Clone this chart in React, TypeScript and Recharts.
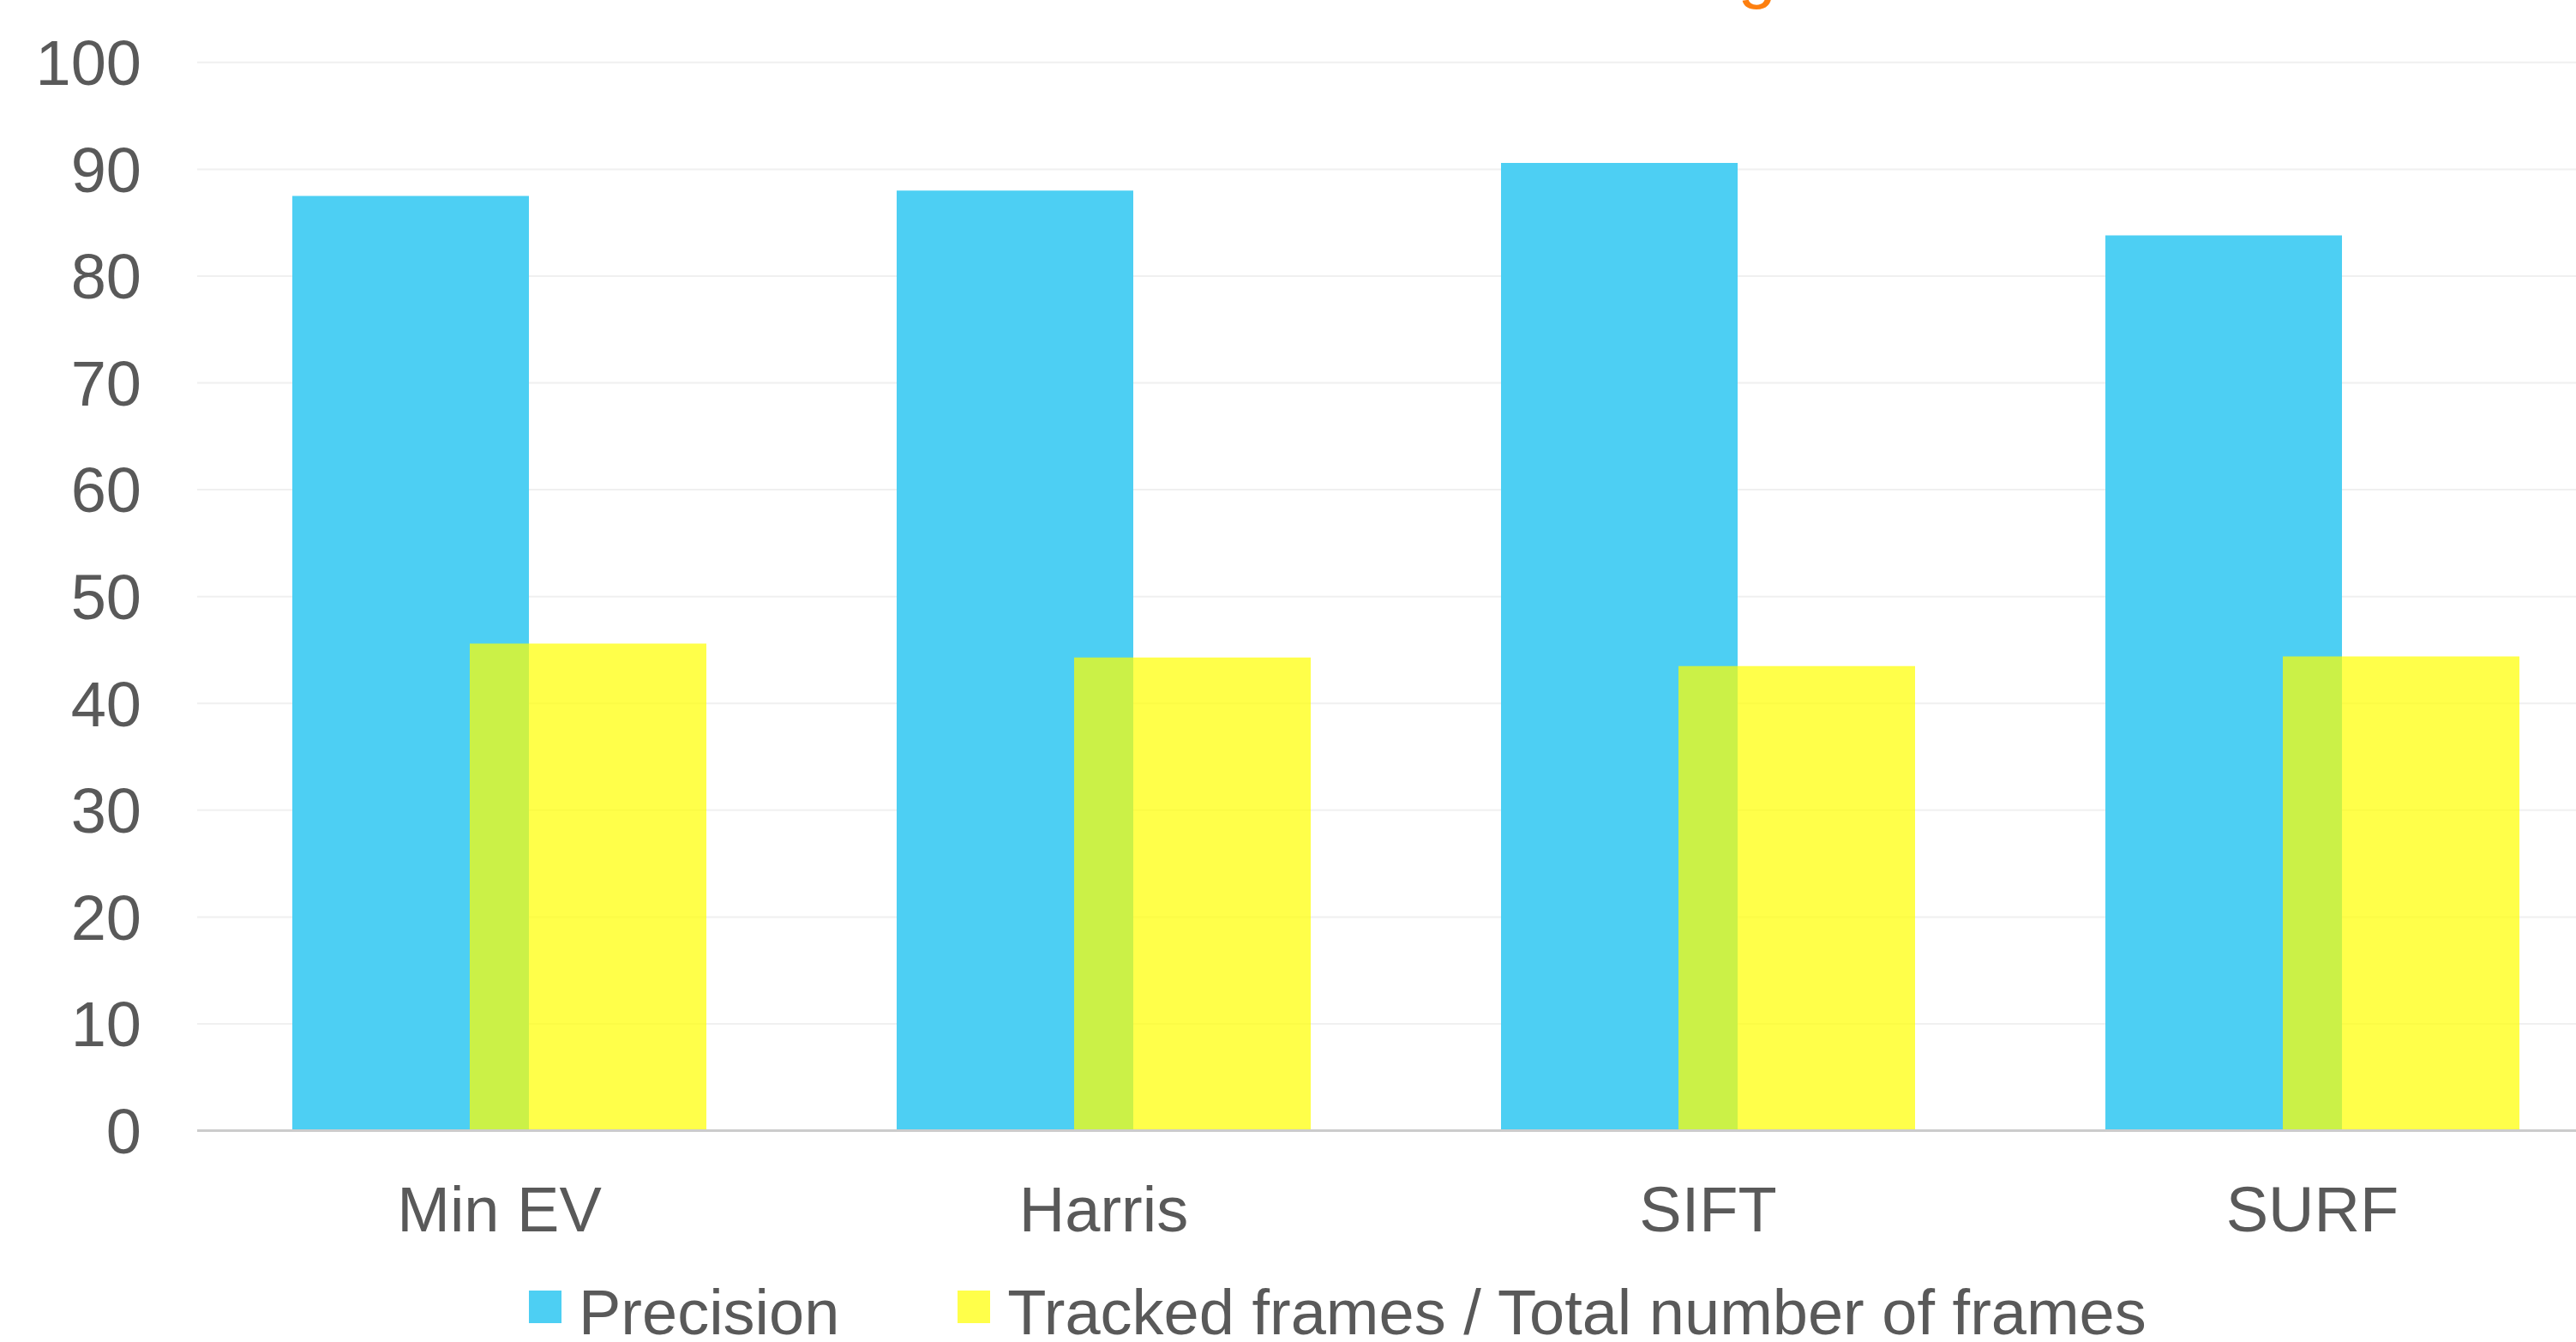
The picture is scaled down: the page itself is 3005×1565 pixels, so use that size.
import React from 'react';
import { BarChart, Bar, XAxis, YAxis, CartesianGrid, Legend } from 'recharts';

const categories = ['Min EV', 'Harris', 'SIFT', 'SURF'];
const precision = [87.5, 88.0, 90.6, 83.8];
const trackedRatio = [45.6, 44.3, 43.5, 44.4];
const yTicks = [0, 10, 20, 30, 40, 50, 60, 70, 80, 90, 100];
const seriesNames = ['Precision', 'Tracked frames / Total number of frames'];

const data = categories.map((name, i) => ({
  name,
  precision: precision[i],
  tracked: trackedRatio[i],
}));

const FONT = '"Liberation Sans", Arial, Helvetica, sans-serif';
const TEXT = '#595959';
const BLUE = '#4dcff3';
const YELLOW = '#ffff00';
const YELLOW_OPACITY = 0.71;

const opacityByKey: Record<string, number> = { precision: 1, tracked: YELLOW_OPACITY };

const renderLegend = (props: any) => {
  const { payload = [] } = props;
  return (
    <div style={{ display: 'flex', fontFamily: FONT, fontSize: 74, lineHeight: '74px', color: TEXT }}>
      {payload.map((e: any, i: number) => (
        <div key={i} style={{ display: 'flex', alignItems: 'flex-start', marginRight: 138 }}>
          <div
            style={{
              width: 38,
              height: 38,
              background: e.color,
              opacity: opacityByKey[e.dataKey] ?? 1,
              marginTop: 11,
              marginRight: 20,
            }}
          />
          <span style={{ whiteSpace: 'nowrap' }}>{e.value}</span>
        </div>
      ))}
    </div>
  );
};

export default function App() {
  return (
    <div
      style={{
        position: 'absolute',
        left: 0,
        top: 0,
        width: 3005,
        height: 1565,
        overflow: 'hidden',
        background: '#ffffff',
      }}
    >
      <svg
        width={3005}
        height={30}
        style={{ position: 'absolute', left: 0, top: 0, zIndex: 2 }}
      >
        <text x={2072} y={-6} textAnchor="end" fill="#fd7f0f" fontFamily={FONT} fontSize={80}>
          Tracking
        </text>
      </svg>
      <BarChart
        width={3060}
        height={1565}
        data={data}
        margin={{ top: 72.8, right: 10, bottom: 0, left: 0 }}
        barSize={276}
        barGap={-69}
      >
        <CartesianGrid vertical={false} stroke="#f0f0f0" strokeWidth={2} />
        <XAxis
          dataKey="name"
          height={246.4}
          tickLine={false}
          tickSize={0}
          tickMargin={65}
          axisLine={{ stroke: '#cccccc', strokeWidth: 3 }}
          tick={{ fill: TEXT, fontSize: 74, fontFamily: FONT }}
        />
        <YAxis
          width={230}
          domain={[0, 100]}
          ticks={yTicks}
          interval={0}
          axisLine={false}
          tickLine={false}
          tickSize={0}
          tickMargin={65}
          tick={{ fill: TEXT, fontSize: 74, fontFamily: FONT }}
        />
        <Legend
          layout="horizontal"
          verticalAlign="middle"
          align="center"
          content={renderLegend}
          wrapperStyle={{ position: 'absolute', left: 617, top: 1494.3, width: 'auto', height: 'auto' }}
        />
        <Bar dataKey="precision" name={seriesNames[0]} fill={BLUE} isAnimationActive={false} />
        <Bar
          dataKey="tracked"
          name={seriesNames[1]}
          fill={YELLOW}
          fillOpacity={YELLOW_OPACITY}
          isAnimationActive={false}
        />
      </BarChart>
    </div>
  );
}
